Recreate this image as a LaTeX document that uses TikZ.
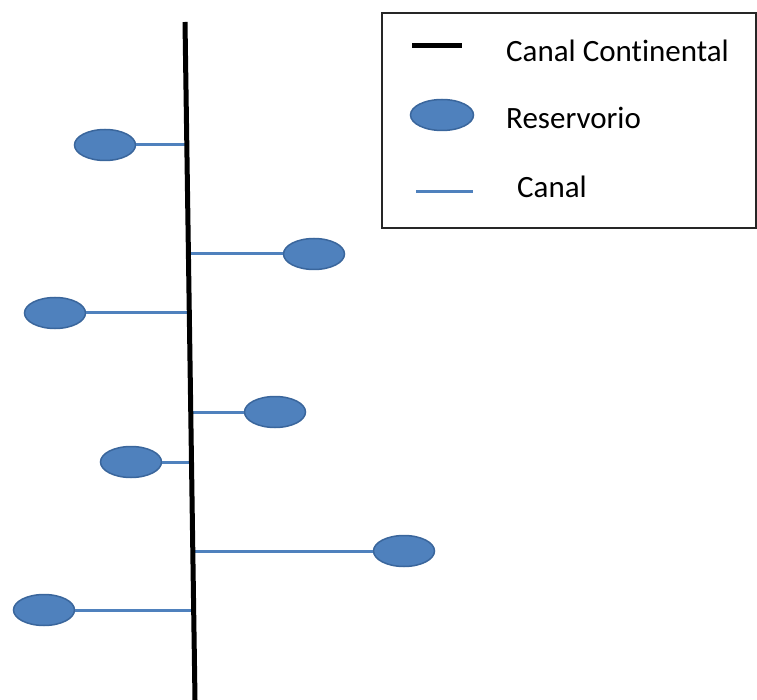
\documentclass[tikz,border=0pt]{standalone}
\usepackage{fontspec}
\setmainfont{Carlito}[Ligatures={NoCommon}]
\usetikzlibrary{calc,shapes.geometric}
\definecolor{resfill}{HTML}{4F81BD}
\definecolor{resdraw}{HTML}{3A669C}
\tikzset{
  reservoir/.style={ellipse, draw=resdraw, fill=resfill, line width=1.5pt,
    minimum width=61pt, minimum height=31pt, inner sep=0pt},
  canal/.style={draw=resfill, line width=3pt},
  maincanal/.style={draw=black, line width=5pt},
  legtext/.style={anchor=base west, inner sep=0pt, font=\fontsize{31}{36}\selectfont},
  legbox/.style={draw=black!85, line width=1.6pt}
}
\begin{document}
\begin{tikzpicture}[x=1pt,y=-1pt]
\useasboundingbox (0,0) rectangle (757,700);
% main continental canal
\coordinate (top) at (185,22);
\coordinate (bot) at (195,700);
% junctions on the main canal
\coordinate (j1) at (186.8,145);
\coordinate (j2) at (188.4,254);
\coordinate (j3) at (189.3,313);
\coordinate (j4) at (190.8,412);
\coordinate (j5) at (191.5,462);
\coordinate (j6) at (192.8,551);
\coordinate (j7) at (193.7,610);
% reservoirs
\node[reservoir] (r1) at (105,145) {};
\node[reservoir] (r2) at (314,254) {};
\node[reservoir] (r3) at (55,313) {};
\node[reservoir] (r4) at (275,412) {};
\node[reservoir] (r5) at (131,462) {};
\node[reservoir] (r6) at (404,551) {};
\node[reservoir] (r7) at (44,610) {};
% canals
\foreach \i in {1,3,5,7} {
  \draw[canal] (r\i.east) -- (j\i);
}
\foreach \i in {2,4,6} {
  \draw[canal] (r\i.west) -- (j\i);
}
\draw[maincanal] (top) -- (bot);
% legend
\draw[legbox] (382,13) rectangle (756,228);
\coordinate (l1a) at (412,46);
\coordinate (l1b) at (462,46);
\draw[maincanal] (l1a) -- (l1b);
\node[legtext] (t1) at (506,61.5) {Canal Continental};
\node[reservoir, minimum width=63pt, minimum height=31pt] (lr) at (442,115) {};
\node[legtext] (t2) at (506,129) {Reservorio};
\coordinate (l3a) at (416,192);
\coordinate (l3b) at (473,192);
\draw[canal] (l3a) -- (l3b);
\node[legtext] (t3) at (517,198) {Canal};
\end{tikzpicture}
\end{document}
